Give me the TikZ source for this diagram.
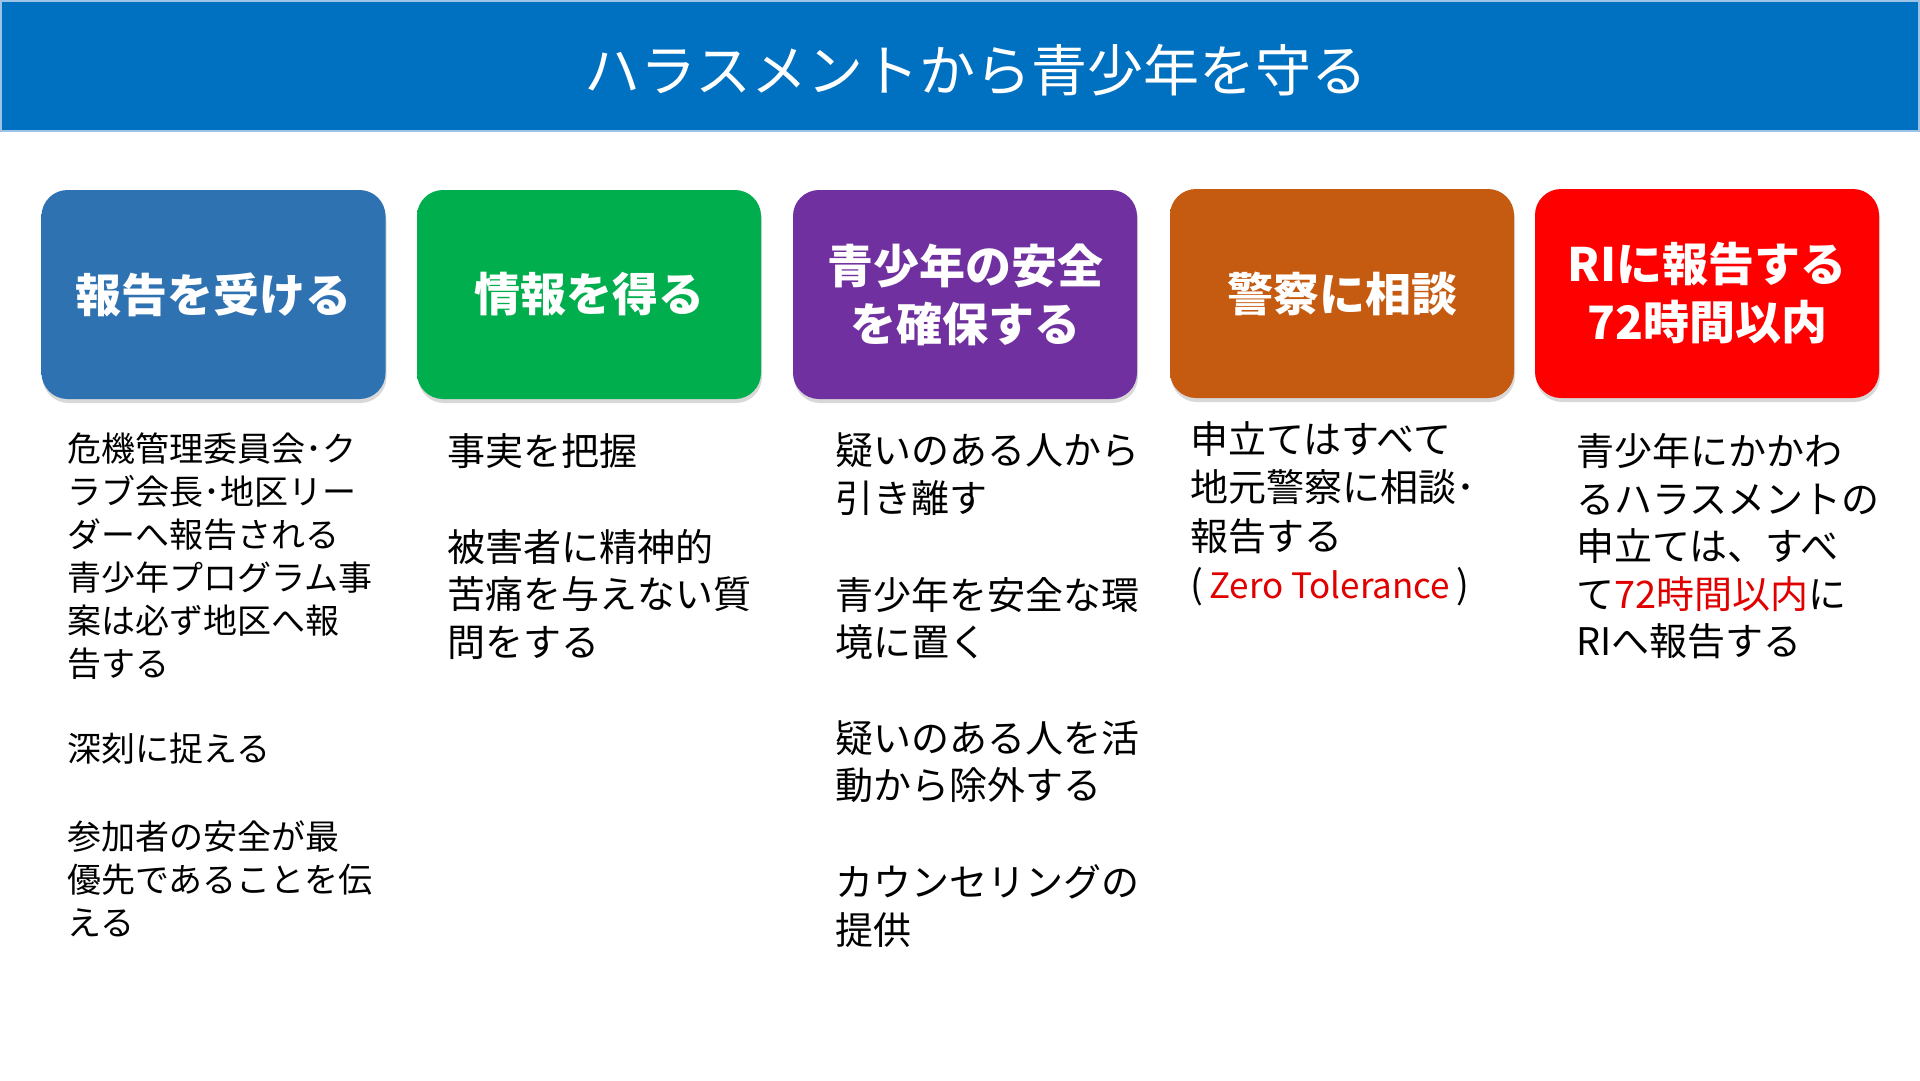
\documentclass[tikz,border=0pt]{standalone}
\usepackage{fontspec}
\setmainfont{Noto Sans CJK JP}
\usetikzlibrary{shadows}
\definecolor{hdrblue}{HTML}{0070C0}
\definecolor{hdredge}{HTML}{9DC3E6}
\definecolor{cblue}{HTML}{2F72B2}
\definecolor{cgreen}{HTML}{00AE4E}
\definecolor{cpurple}{HTML}{7030A0}
\definecolor{corange}{HTML}{C55A11}
\definecolor{cred}{HTML}{FF0000}
\definecolor{txtred}{HTML}{E00000}
\colorlet{bxmain}{cblue}\colorlet{bxhi}{cblue}\colorlet{bxlo}{cblue}
\pgfdeclareverticalshading[bxhi,bxmain,bxlo]{boxshade}{100bp}{color(0bp)=(bxlo); color(5bp)=(bxlo); color(22bp)=(bxmain); color(86bp)=(bxmain); color(100bp)=(bxhi)}
\tikzset{
  boxcolor/.code={\colorlet{bxmain}{#1}\colorlet{bxhi}{#1!50!white}\colorlet{bxlo}{#1!90!black}},
  stepbox/.style={rounded corners=26pt, minimum width=344pt, minimum height=209pt,
    inner sep=0pt, shade, shading=boxshade, text=white, align=center,
    font=\fontsize{46}{58}\selectfont\bfseries,
    drop shadow={shadow xshift=1pt,shadow yshift=-4pt,opacity=0.3}},
  bodytext/.style={anchor=west, inner sep=0pt, align=left, text=black},
  smalltxt/.style={bodytext, font=\fontsize{34}{43}\selectfont},
  midtxt/.style={bodytext, font=\fontsize{38}{47.5}\selectfont},
}
\begin{document}
\begin{tikzpicture}[x=1pt,y=-1pt]
\useasboundingbox (0,0) rectangle (1920,1080);
\fill[white] (0,0) rectangle (1920,1080);
% header
\draw[fill=hdrblue, draw=hdredge, line width=2pt] (1,1) rectangle (1919,131);
\node[text=white, font=\fontsize{56}{60}\selectfont] (title) at (976,70) {ハラスメントから青少年を守る};
% boxes
\node[stepbox, boxcolor=cblue]   (b1) at (213.5,294.5) {報告を受ける};
\node[stepbox, boxcolor=cgreen]  (b2) at (589,294.5) {情報を得る};
\node[stepbox, boxcolor=cpurple] (b3) at (965,294.5) {青少年の安全\\を確保する};
\node[stepbox, boxcolor=corange] (b4) at (1342,293.5) {警察に相談};
\node[stepbox, boxcolor=cred]    (b5) at (1707,293.5) {RIに報告する\\72時間以内};
% column 1
\node[smalltxt] (c1a) at (67,556) {危機管理委員会･ク\\ラブ会長･地区リー\\ダーへ報告される\\青少年プログラム事\\案は必ず地区へ報\\告する};
\node[smalltxt] (c1b) at (67,749) {深刻に捉える};
\node[smalltxt] (c1c) at (67,878.5) {参加者の安全が最\\優先であることを伝\\える};
% column 2
\node[midtxt] (c2a) at (447,451) {事実を把握};
\node[midtxt] (c2b) at (447,594) {被害者に精神的\\苦痛を与えない質\\問をする};
% column 3
\node[midtxt] (c3a) at (835,474) {疑いのある人から\\引き離す};
\node[midtxt] (c3b) at (835,618.5) {青少年を安全な環\\境に置く};
\node[midtxt] (c3c) at (835,761.5) {疑いのある人を活\\動から除外する};
\node[midtxt] (c3d) at (835,906) {カウンセリングの\\提供};
% column 4
\node[bodytext, font=\fontsize{38}{48.6}\selectfont] (c4a) at (1190,513.7) {申立てはすべて\\地元警察に相談･\\報告する\\(\,{\fontsize{35}{48.6}\selectfont\color{txtred}Zero Tolerance}\,)};
% column 5
\node[midtxt] (c5a) at (1576,546.5) {青少年にかかわ\\るハラスメントの\\申立ては、すべ\\て{\color{txtred}72時間以内}に\\RIへ報告する};
\end{tikzpicture}
\end{document}
